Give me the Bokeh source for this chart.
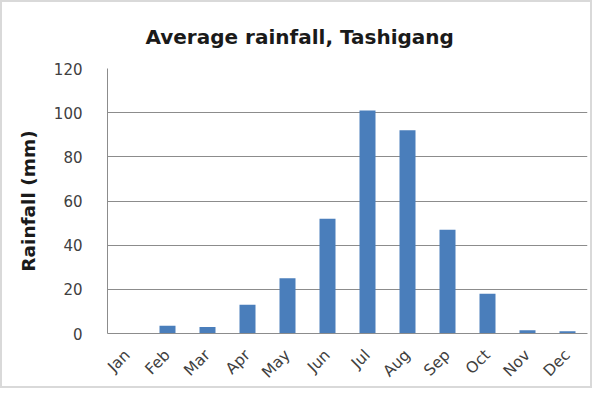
import math
from bokeh.plotting import figure
from bokeh.models import Title, FixedTicker
from bokeh.embed import file_html
from bokeh.resources import INLINE

months = ["Jan", "Feb", "Mar", "Apr", "May", "Jun", "Jul", "Aug", "Sep", "Oct", "Nov", "Dec"]
rainfall = [0, 3.5, 3, 13, 25, 52, 101, 92, 47, 18, 1.5, 1]
y_ticks = [0, 20, 40, 60, 80, 100, 120]
title_text = "Average rainfall, Tashigang"

FONT = "DejaVu Sans"
TXT = "#404040"
W, H = 592, 388

p = figure(x_range=months, y_range=(0, 120), width=W, height=H,
           output_backend="svg", toolbar_location=None,
           min_border_left=105, min_border_right=7, min_border_top=64, min_border_bottom=57)

p.vbar(x=months, top=rainfall, width=0.4, color="#4a7ebb", line_color=None)

title = Title(text=title_text, align="left", offset=38,
              text_font=FONT, text_font_size="20px", text_font_style="bold",
              text_color="#1a1a1a", standoff=40)
p.add_layout(title, "above")

p.xgrid.grid_line_color = None
p.ygrid.grid_line_color = "#8c8c8c"
p.ygrid.grid_line_width = 1
p.yaxis.ticker = FixedTicker(ticks=y_ticks)
p.outline_line_color = None

for ax in (p.xaxis[0], p.yaxis[0]):
    ax.axis_line_color = "#8c8c8c"
    ax.major_tick_line_color = None
    ax.minor_tick_line_color = None
    ax.major_label_text_font = FONT
    ax.major_label_text_font_size = "15px"
    ax.major_label_text_color = TXT

p.yaxis.major_label_standoff = 19
p.yaxis.axis_label = "Rainfall (mm)"
p.yaxis.axis_label_text_font = FONT
p.yaxis.axis_label_text_font_size = "18.5px"
p.yaxis.axis_label_text_font_style = "bold"
p.yaxis.axis_label_text_color = "#1a1a1a"
p.yaxis.axis_label_standoff = 12

p.xaxis.major_label_orientation = math.pi / 4
p.xaxis.major_label_text_font_size = "15.5px"
p.xaxis.major_label_standoff = 13

p.background_fill_color = "white"
p.border_fill_color = "white"
p.styles = {"border": "2px solid #d9d9d9"}

open("out.html", "w").write(file_html(p, INLINE))
